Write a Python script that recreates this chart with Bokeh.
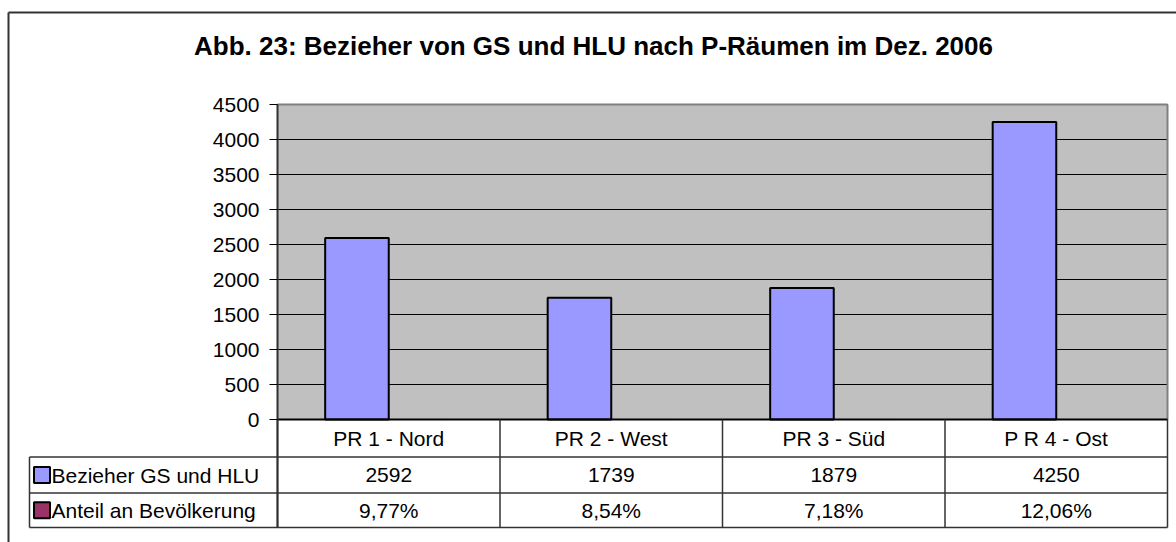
from bokeh.plotting import figure
from bokeh.models import Range1d, FixedTicker
from bokeh.core.properties import value
from bokeh.embed import file_html
from bokeh.resources import INLINE

# ---------------- data ----------------
title_text = "Abb. 23: Bezieher von GS und HLU nach P-Räumen im Dez. 2006"
categories = ["PR 1 - Nord", "PR 2 - West", "PR 3 - Süd", "P R 4 - Ost"]
series_names = ["Bezieher GS und HLU", "Anteil an Bevölkerung"]
bezieher = [2592, 1739, 1879, 4250]
anteil_pct = [9.77, 8.54, 7.18, 12.06]
y_ticks = [0, 500, 1000, 1500, 2000, 2500, 3000, 3500, 4000, 4500]
series_colors = ["#9999ff", "#993366"]

FONT = "Liberation Sans"
FS = "21px"

# ---------------- geometry (page px) ----------------
W, H = 1176, 542
pg_left, pg_top = 0, 0
pg_right, pg_bottom = pg_left + W, pg_top + H
plot_left, plot_right, plot_top, plot_bottom = 277, 1167, 104, 419
n = len(categories)
ymax = y_ticks[-1]
cat_px = (plot_right - plot_left) / n
val_per_px = ymax / (plot_bottom - plot_top)


def xdata(px):
    return (px - plot_left) / cat_px


def ydata(py):
    return (plot_bottom - py) * val_per_px


bw = 1 / 3.5  # Excel gap width 150 %, two series per category

p = figure(width=W, height=H,
           x_range=Range1d(xdata(pg_left), xdata(pg_right)),
           y_range=Range1d(ydata(pg_bottom), ydata(pg_top)),
           x_axis_location=None, y_axis_location="left",
           toolbar_location=None, output_backend="svg",
           min_border=0, min_border_left=0, min_border_right=0,
           min_border_top=0, min_border_bottom=0)
p.extra_x_ranges = {"px": Range1d(pg_left, pg_right)}
p.extra_y_ranges = {"px": Range1d(pg_bottom, pg_top)}
p.outline_line_color = None
p.background_fill_color = "white"
p.border_fill_color = "white"
p.xgrid.visible = False
p.ygrid.visible = False
PX = dict(x_range_name="px", y_range_name="px")

# outer chart frame (left/top)
p.segment(x0=[8, 8], y0=[12, 12], x1=[8, pg_right], y1=[pg_bottom, 12],
          line_color="#333333", line_width=2, **PX)

# plot area
p.quad(left=[0], right=[n], bottom=[0], top=[ymax], fill_color="#c0c0c0", line_color=None)
p.segment(x0=[0] * len(y_ticks), y0=y_ticks, x1=[n] * len(y_ticks), y1=y_ticks,
          line_color="black", line_width=1)
p.segment(x0=[0, n], y0=[ymax, ymax], x1=[n, n], y1=[ymax, 0],
          line_color="#808080", line_width=2)

ax = p.yaxis[0]
ax.fixed_location = 0
rows = [419, 456.5, 492.5, 527]
ax.bounds = (ydata(rows[-1]), ymax)
ax.ticker = FixedTicker(ticks=y_ticks)
ax.major_label_text_font = FONT
ax.major_label_text_font_size = FS
ax.major_label_text_color = "black"
ax.axis_line_color = "#303030"
ax.axis_line_width = 2
ax.major_tick_line_color = "black"
ax.major_tick_out = 8
ax.major_tick_in = 0
ax.minor_tick_line_color = None
ax.major_label_standoff = 10

# bars
xs1 = [i + 0.5 - bw / 2 for i in range(n)]
xs2 = [i + 0.5 + bw / 2 for i in range(n)]
p.vbar(x=xs1, top=bezieher, width=bw, fill_color=series_colors[0],
       line_color="black", line_width=2)
p.vbar(x=xs2, top=[a / 100 for a in anteil_pct], width=bw,
       fill_color=series_colors[1], line_color="black", line_width=1)

# title
p.text(x=[593], y=[45], text=[title_text], text_font=value(FONT),
       text_font_size="26px", text_font_style="bold", text_color="black",
       text_align="center", text_baseline="middle", **PX)

# ---------------- data table ----------------
LC = "#333333"
p.segment(x0=[0], y0=[0], x1=[n], y1=[0], line_color="black", line_width=2)
p.segment(x0=[plot_left + cat_px * k for k in range(n + 1)], y0=[rows[0]] * (n + 1),
          x1=[plot_left + cat_px * k for k in range(n + 1)], y1=[rows[3]] * (n + 1),
          line_color=LC, line_width=1.5, **PX)
p.segment(x0=[29] * 3, y0=rows[1:], x1=[plot_right] * 3, y1=rows[1:],
          line_color=LC, line_width=1.5, **PX)
p.segment(x0=[29], y0=[rows[1]], x1=[29], y1=[rows[3]],
          line_color=LC, line_width=1.5, **PX)

centers = [i + 0.5 for i in range(n)]
row_mid = [(rows[k] + rows[k + 1]) / 2 for k in range(3)]
txt = dict(text_font=value(FONT), text_font_size=FS, text_color="black",
           text_align="center", text_baseline="middle", y_range_name="px")
p.text(x=centers, y=[row_mid[0]] * n, text=categories, **txt)
p.text(x=centers, y=[row_mid[1]] * n, text=[str(v) for v in bezieher], **txt)
p.text(x=centers, y=[row_mid[2]] * n,
       text=[f"{a:.2f}%".replace(".", ",") for a in anteil_pct], **txt)

p.scatter(x=[41.5, 41.5], y=[row_mid[1], row_mid[2]], marker="square", size=16,
          fill_color=series_colors, line_color="black", line_width=2, **PX)
leg_txt = dict(txt)
leg_txt["text_align"] = "left"
leg_txt["x_range_name"] = "px"
p.text(x=[51, 51], y=[row_mid[1], row_mid[2]], text=series_names, **leg_txt)

open("out.html", "w").write(file_html(p, INLINE))
